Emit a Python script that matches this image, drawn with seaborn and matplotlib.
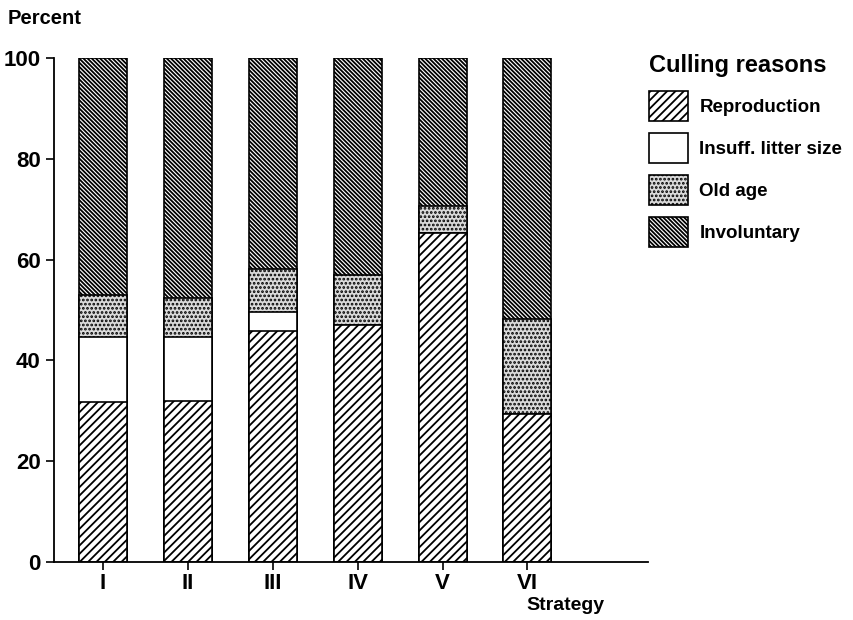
import numpy as np
import pandas as pd
import matplotlib
matplotlib.use("Agg")
import matplotlib.pyplot as plt
import seaborn as sns
from matplotlib.patches import Patch

strategies = ["I", "II", "III", "IV", "V", "VI"]
reproduction = [31.7, 32.0, 45.8, 47.0, 65.3, 29.3]
insuff_litter = [12.9, 12.6, 3.9, 0.0, 0.0, 0.0]
old_age = [8.4, 7.8, 8.5, 9.9, 5.4, 18.9]
involuntary = [47.0, 47.6, 41.8, 43.1, 29.3, 51.8]
reasons = ["Reproduction", "Insuff. litter size", "Old age", "Involuntary"]
yticks = [0, 20, 40, 60, 80, 100]

sns.set_theme(style="ticks")
plt.rcParams["font.family"] = ["Liberation Sans", "DejaVu Sans"]
plt.rcParams["hatch.linewidth"] = 1.3
plt.rcParams["text.color"] = "black"
plt.rcParams["xtick.color"] = "black"
plt.rcParams["ytick.color"] = "black"

fig = plt.figure(figsize=(8.54, 6.2), dpi=100)
ax = fig.add_axes([54 / 854, 1 - 562 / 620, (648 - 54) / 854, (562 - 58) / 620])

layers = [reproduction, insuff_litter, old_age, involuntary]
styles = [
    dict(facecolor="white", hatch="////"),
    dict(facecolor="white", hatch=""),
    dict(facecolor="#dadada", hatch="...."),
    dict(facecolor="white", hatch="\\\\\\\\\\\\\\\\"),
]
cum = np.cumsum(np.array(layers), axis=0)
# draw from top layer down so lower layers overlay
for i in range(3, -1, -1):
    df = pd.DataFrame({"Strategy": strategies, "Percent": cum[i]})
    sns.barplot(data=df, x="Strategy", y="Percent", ax=ax, width=0.566,
                edgecolor="black", linewidth=1.2, **styles[i])

ax.set_ylim(0, 100)
ax.set_xlim(-0.578, 6.42)
ax.set_yticks(yticks)
ax.set_yticklabels([str(v) for v in yticks])
ax.set_xlabel("")
ax.set_ylabel("")
sns.despine(ax=ax)
for s in ["left", "bottom"]:
    ax.spines[s].set_linewidth(1.3)
    ax.spines[s].set_color("black")
ax.tick_params(axis="both", direction="out", length=5.5, width=1.2, color="black",
               labelsize=16, pad=4)
ax.tick_params(axis="x", labelsize=16, pad=2.5)
for lab in ax.get_xticklabels() + ax.get_yticklabels():
    lab.set_fontweight("bold")
    lab.set_color("black")

fig.text(8 / 854, 1 - 18 / 620, "Percent", fontsize=14.5, fontweight="bold",
         va="center", ha="left")
fig.text(565 / 854, 1 - 606 / 620, "Strategy", fontsize=14, fontweight="bold",
         va="center", ha="center")

handles = [Patch(edgecolor="black", linewidth=1.2, **styles[i]) for i in range(4)]
leg = fig.legend(handles, reasons, loc="upper left",
                 bbox_to_anchor=(647 / 854, 1 - 52 / 620), frameon=False,
                 title="Culling reasons",
                 prop={"size": 13.5, "weight": "bold"},
                 handlelength=2.1, handleheight=2.1, labelspacing=0.63,
                 handletextpad=0.6, borderaxespad=0, borderpad=0.1)
leg.get_title().set_fontsize(17)
leg.get_title().set_fontweight("bold")
leg._legend_box.align = "left"
leg._legend_box.sep = 10

fig.savefig("out.png", dpi=100)
